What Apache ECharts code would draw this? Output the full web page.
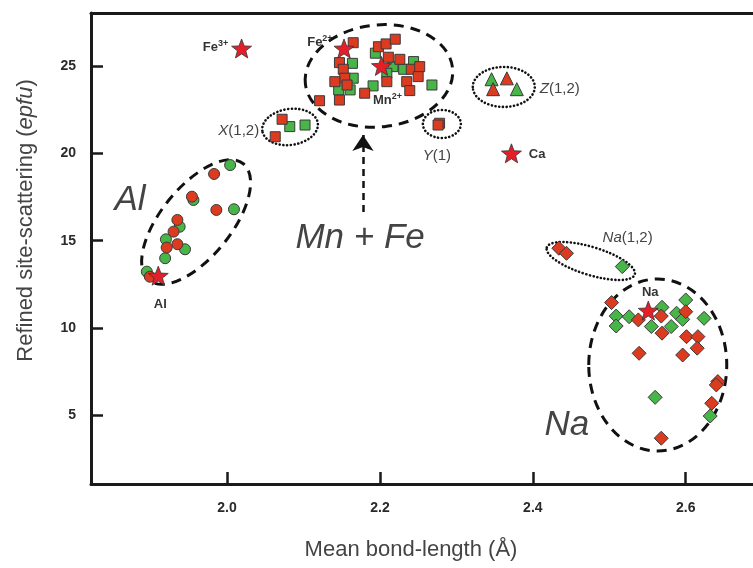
<!DOCTYPE html>
<html>
<head>
<meta charset="utf-8">
<script src="https://cdn.jsdelivr.net/npm/echarts@6/dist/echarts.min.js"></script>
<style>
  html, body { margin: 0; padding: 0; background: #fff; }
  #chart { width: 753px; height: 568px; }
</style>
</head>
<body>
<div id="chart"></div>
<script>
// ---- Axis ticks ----
const xTicks = [2.0, 2.2, 2.4, 2.6];
const yTicks = [5, 10, 15, 20, 25];

// ---- Al site (circles) : [mean bond-length, site-scattering] ----
const alGreen = [[2.004, 19.33], [1.956, 17.33], [2.009, 16.80], [1.938, 15.80], [1.920, 15.08], [1.945, 14.51], [1.919, 14.00], [1.895, 13.23]];
const alRed   = [[1.983, 18.82], [1.954, 17.52], [1.986, 16.76], [1.935, 16.19], [1.930, 15.52], [1.935, 14.80], [1.921, 14.61], [1.899, 12.94]];

// ---- Mn + Fe, X(1,2), Y(1) sites (squares) ----
const mnGreen = [[2.194, 25.73], [2.164, 25.15], [2.165, 24.30], [2.146, 23.63], [2.161, 23.63], [2.191, 23.86], [2.217, 24.96], [2.231, 24.81], [2.244, 25.25], [2.268, 23.91], [2.209, 24.58],
                 [2.082, 21.53], [2.102, 21.62]];
const mnRed   = [[2.165, 26.33], [2.198, 26.10], [2.208, 26.26], [2.220, 26.53], [2.147, 25.19], [2.152, 24.81], [2.154, 24.30], [2.141, 24.10], [2.211, 25.50], [2.226, 25.38],
                 [2.241, 24.81], [2.252, 24.96], [2.250, 24.39], [2.209, 24.10], [2.235, 24.10], [2.239, 23.59], [2.180, 23.44], [2.147, 23.05], [2.121, 23.01], [2.157, 23.91],
                 [2.072, 21.95], [2.063, 20.95],
                 [2.278, 21.72], [2.276, 21.62]];

// ---- Z(1,2) site (triangles) ----
const zGreen = [[2.346, 24.24], [2.379, 23.67]];
const zRed   = [[2.366, 24.29], [2.348, 23.67]];

// ---- Na, Na(1,2) sites (diamonds) ----
const naGreen = [[2.517, 13.52],
                 [2.509, 10.69], [2.509, 10.12], [2.526, 10.65], [2.555, 10.09], [2.581, 10.09], [2.569, 11.19], [2.600, 11.61], [2.588, 10.85], [2.596, 10.50], [2.624, 10.56],
                 [2.560, 6.04], [2.632, 4.97]];
const naRed   = [[2.434, 14.57], [2.444, 14.28],
                 [2.503, 11.46], [2.538, 10.47], [2.568, 10.69], [2.569, 9.71], [2.600, 10.94], [2.601, 9.51], [2.616, 9.51], [2.615, 8.85], [2.596, 8.46], [2.539, 8.56],
                 [2.642, 6.94], [2.640, 6.75], [2.634, 5.70], [2.568, 3.70]];

// ---- Reference cations (stars) ----
const starNames = ['Fe3+', 'Fe2+', 'Mn2+', 'Al', 'Ca', 'Na'];
const starX     = [2.019, 2.153, 2.202, 1.910, 2.372, 2.551];
const starY     = [26, 26, 25, 13, 20, 11];

// ---- Group outlines: centre in data units, radii in px, tilt in degrees ----
const outlines = [
  { center: [1.9595, 16.07], rx: 75, ry: 35, tilt: 51, kind: 'dash' },
  { center: [2.1987, 24.43], rx: 74, ry: 51, tilt: 6,  kind: 'dash' },
  { center: [2.5634, 7.89],  rx: 69, ry: 86, tilt: 0,  kind: 'dash' },
  { center: [2.0824, 21.51], rx: 28, ry: 18, tilt: 8,  kind: 'dot' },
  { center: [2.2810, 21.68], rx: 19, ry: 14, tilt: 0,  kind: 'dot' },
  { center: [2.3620, 23.80], rx: 31, ry: 20, tilt: 0,  kind: 'dot' },
  { center: [2.4758, 13.84], rx: 46, ry: 14, tilt: -17, kind: 'dot' }
];

// ---- Text annotations ----
const siteLabels = [
  { text: '{i|X}(1,2)',  at: [2.042, 21.30], align: 'right' },
  { text: '{i|Y}(1)',    at: [2.2745, 19.85], align: 'center' },
  { text: '{i|Z}(1,2)',  at: [2.409, 23.68], align: 'left' },
  { text: '{i|Na}(1,2)', at: [2.524, 15.16], align: 'center' }
];
const groupLabels = [
  { text: 'Al',      at: [1.873, 17.33] },
  { text: 'Mn + Fe', at: [2.174, 15.16] },
  { text: 'Na',      at: [2.4444, 4.46] }
];
const arrowFrom = [2.1778, 16.65];
const arrowTo   = [2.1778, 21.05];

// five-pointed star symbol
function starSymbol() {
  const pts = [];
  for (let i = 0; i < 10; i++) {
    const r = i % 2 ? 0.42 : 1;
    const a = -Math.PI / 2 + i * Math.PI / 5;
    pts.push((r * Math.cos(a)).toFixed(4) + ',' + (r * Math.sin(a)).toFixed(4));
  }
  return 'path://M' + pts.join('L') + 'Z';
}

const RED = '#dc3b20';
const GREEN = '#48b548';
const EDGE = '#3a3a3a';
const FONT = 'Liberation Sans, Arial, sans-serif';

const markerStyle = (color) => ({ color: color, borderColor: EDGE, borderWidth: 1, opacity: 1 });

const starLabelCfg = {
  'Fe3+': { position: 'left',   distance: 3, offset: [0, -1] },
  'Fe2+': { position: 'left',   distance: 1, offset: [0, -6] },
  'Mn2+': { position: 'bottom', distance: 16, offset: [6, 0] },
  'Al':   { position: 'bottom', distance: 12, offset: [2, 0] },
  'Ca':   { position: 'right',  distance: 7, offset: [0, 1] },
  'Na':   { position: 'top',    distance: 2, offset: [2, 0] }
};
function starLabelText(n) {
  const m = n.match(/^([A-Za-z]+)(\d\+)?$/);
  return m[2] ? m[1] + '{sup|' + m[2] + '}' : m[1];
}

const starData = starNames.map((n, i) => {
  const c = starLabelCfg[n];
  return {
    name: n,
    value: [starX[i], starY[i]],
    label: {
      show: true, position: c.position, distance: c.distance, offset: c.offset,
      formatter: starLabelText(n),
      fontFamily: FONT, fontWeight: 'bold', fontSize: 13, color: '#333',
      rich: { sup: { fontFamily: FONT, fontWeight: 'bold', fontSize: 9, color: '#333', verticalAlign: 'top', padding: [0, 0, 8, 0] } }
    }
  };
});

const chart = echarts.init(document.getElementById('chart'), null, { renderer: 'canvas' });

const outlineSeries = {
  type: 'custom',
  silent: true,
  z: 1,
  data: outlines.map(o => o.center),
  renderItem: (params, api) => {
    const o = outlines[params.dataIndex];
    const p = api.coord([api.value(0), api.value(1)]);
    const dotted = o.kind === 'dot';
    return {
      type: 'ellipse',
      x: p[0], y: p[1],
      rotation: o.tilt * Math.PI / 180,
      shape: { cx: 0, cy: 0, rx: o.rx, ry: o.ry },
      style: {
        fill: null,
        stroke: '#111',
        lineWidth: dotted ? 2.6 : 3,
        lineDash: dotted ? [0.1, 3.6] : [10, 7],
        lineCap: dotted ? 'round' : 'butt'
      }
    };
  }
};

// dashed pointer from the "Mn + Fe" caption up to its group
const arrowSeries = {
  type: 'lines',
  coordinateSystem: 'cartesian2d',
  silent: true,
  z: 2,
  symbol: ['none', 'arrow'],
  symbolSize: 16,
  lineStyle: { color: '#111', width: 2.5, type: [7, 5], opacity: 1 },
  data: [{ coords: [arrowFrom, arrowTo] }]
};

const textSeries = {
  type: 'custom',
  silent: true,
  z: 5,
  data: siteLabels.map(l => l.at).concat(groupLabels.map(l => l.at)),
  renderItem: (params, api) => {
    const p = api.coord([api.value(0), api.value(1)]);
    const i = params.dataIndex;
    if (i < siteLabels.length) {
      const l = siteLabels[i];
      return {
        type: 'text', x: p[0], y: p[1],
        style: {
          text: l.text, fontFamily: FONT, fontSize: 15, fill: '#444',
          align: l.align, verticalAlign: 'middle',
          rich: { i: { fontFamily: FONT, fontSize: 15, fontStyle: 'italic', fill: '#444' } }
        }
      };
    }
    const g = groupLabels[i - siteLabels.length];
    return {
      type: 'text', x: p[0], y: p[1],
      style: {
        text: g.text, fontFamily: FONT, fontSize: 35, fontStyle: 'italic', fill: '#444',
        align: 'center', verticalAlign: 'middle'
      }
    };
  }
};

const scatter = (name, data, symbol, size, color) => ({
  name: name, type: 'scatter', data: data, symbol: symbol, symbolSize: size,
  itemStyle: markerStyle(color), z: 3, silent: true
});

chart.setOption({
  animation: false,
  backgroundColor: '#fff',
  grid: { left: 91, right: 0, top: 13, bottom: 84, outerBoundsMode: 'none', containLabel: false },
  xAxis: [{
    type: 'value', min: 1.822, max: 2.688,
    name: 'Mean bond-length (\u00c5)', nameLocation: 'middle', nameGap: 55,
    nameTextStyle: { fontFamily: FONT, fontSize: 22, color: '#444', padding: [0, 22, 0, 0] },
    axisLine: { show: true, onZero: false, lineStyle: { color: '#1a1a1a', width: 3 } },
    axisTick: { show: true, inside: true, length: 12, customValues: xTicks, lineStyle: { color: '#1a1a1a', width: 2.5 } },
    axisLabel: { show: true, customValues: xTicks, margin: 17, formatter: v => v.toFixed(1),
                 fontFamily: FONT, fontWeight: 'bold', fontSize: 14, color: '#2a2a2a' },
    splitLine: { show: false }
  }, {
    type: 'value', position: 'top', min: 1.822, max: 2.688,
    axisLine: { show: true, onZero: false, lineStyle: { color: '#1a1a1a', width: 3 } },
    axisTick: { show: false }, axisLabel: { show: false }, splitLine: { show: false }
  }],
  yAxis: {
    type: 'value', min: 1.08, max: 28.03,
    name: 'Refined site-scattering ({i|epfu})', nameLocation: 'middle', nameGap: 54, nameRotate: 90,
    nameTextStyle: { fontFamily: FONT, fontSize: 22, color: '#444', padding: [0, 0, 0, 56],
                     rich: { i: { fontFamily: FONT, fontSize: 22, fontStyle: 'italic', color: '#444' } } },
    axisLine: { show: true, onZero: false, lineStyle: { color: '#1a1a1a', width: 3 } },
    axisTick: { show: true, inside: true, length: 12, customValues: yTicks, lineStyle: { color: '#1a1a1a', width: 2.5 } },
    axisLabel: { show: true, customValues: yTicks, margin: 15,
                 fontFamily: FONT, fontWeight: 'bold', fontSize: 14, color: '#2a2a2a' },
    splitLine: { show: false }
  },
  series: [
    outlineSeries,
    arrowSeries,
    scatter('Al green', alGreen, 'circle', 11, GREEN),
    scatter('Al red', alRed, 'circle', 11, RED),
    scatter('M green', mnGreen, 'rect', 10, GREEN),
    scatter('M red', mnRed, 'rect', 10, RED),
    scatter('Z green', zGreen, 'triangle', 13, GREEN),
    scatter('Z red', zRed, 'triangle', 13, RED),
    scatter('Na green', naGreen, 'diamond', 14, GREEN),
    scatter('Na red', naRed, 'diamond', 14, RED),
    {
      name: 'Cations', type: 'scatter', data: starData, symbol: starSymbol(), symbolSize: 20, symbolKeepAspect: true,
      itemStyle: { color: '#e3202a', borderColor: '#333', borderWidth: 0.8, opacity: 1 }, z: 4, silent: true
    },
    textSeries
  ]
});
</script>
</body>
</html>
